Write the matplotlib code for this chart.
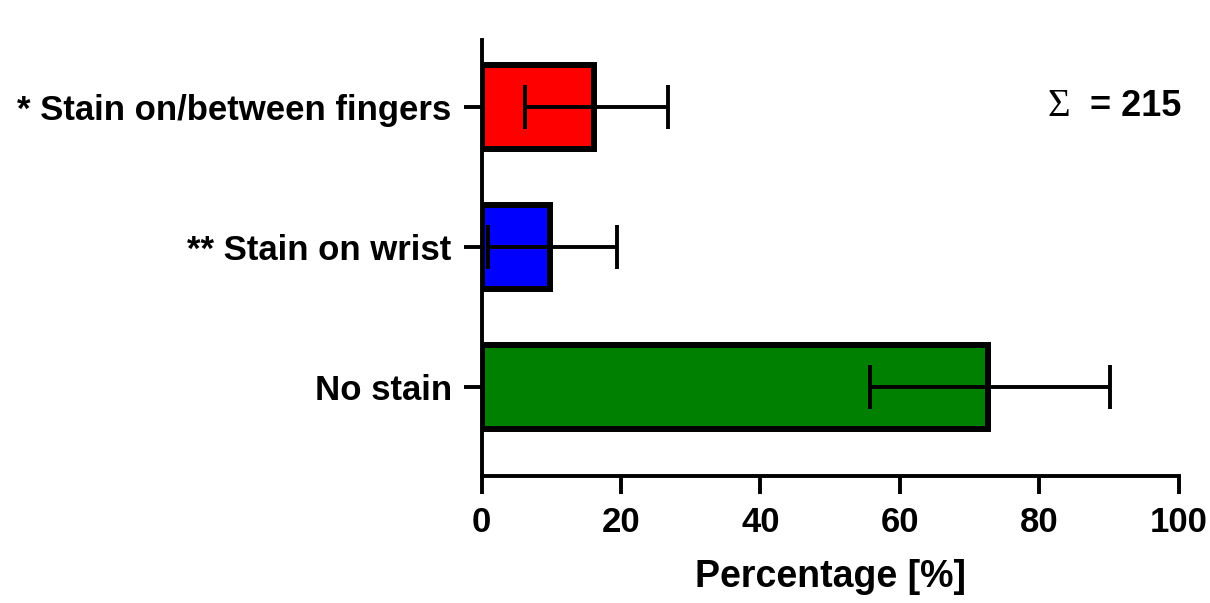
#!/usr/bin/env python3
"""Horizontal bar chart of stain location percentages with error bars."""

import matplotlib.pyplot as plt
import numpy as np

plt.rcParams["font.family"] = ["Liberation Sans", "DejaVu Sans"]
plt.rcParams["font.weight"] = "bold"

categories = ["No stain", "** Stain on wrist", "* Stain on/between fingers"]
values = [72.6, 9.8, 16.1]
err_low = [16.8, 8.9, 9.8]
err_high = [17.6, 9.7, 10.7]
colors = ["#008000", "#0000ff", "#ff0000"]
total_n = 215


def main():
    fig = plt.figure(figsize=(12.1, 6.03), dpi=100)
    ax = fig.add_axes([0.398, 0.211, 0.576, 0.723])

    y = np.arange(len(categories))
    ax.barh(y, values, height=0.6, color=colors, edgecolor="black", linewidth=4.3, zorder=2)
    ax.errorbar(
        values,
        y,
        xerr=[err_low, err_high],
        fmt="none",
        ecolor="black",
        elinewidth=2.8,
        capsize=16,
        capthick=2.8,
        zorder=3,
    )

    ax.set_xlim(0, 100)
    ax.set_ylim(-0.636, 2.479)
    ax.set_xticks([0, 20, 40, 60, 80, 100])
    ax.set_yticks(y)
    ax.set_yticklabels(categories, fontsize=25.3)
    ax.tick_params(axis="both", which="major", length=13, width=2.8, labelsize=25)
    ax.tick_params(axis="x", pad=9)
    ax.tick_params(axis="y", pad=8.5)
    for lab in ax.get_xticklabels() + ax.get_yticklabels():
        lab.set_fontweight("bold")

    for side in ("top", "right"):
        ax.spines[side].set_visible(False)
    for side in ("left", "bottom"):
        ax.spines[side].set_linewidth(2.8)

    ax.set_xlabel("Percentage [%]", fontsize=27, fontweight="bold", labelpad=14)

    ax.text(84.5, 2, "\u03a3", family="Liberation Serif", fontweight="normal",
            fontsize=28, ha="right", va="center")
    ax.text(100.4, 2, f"= {total_n}", fontsize=26, fontweight="bold",
            ha="right", va="center")

    fig.savefig("out.png", dpi=100)


if __name__ == "__main__":
    main()
